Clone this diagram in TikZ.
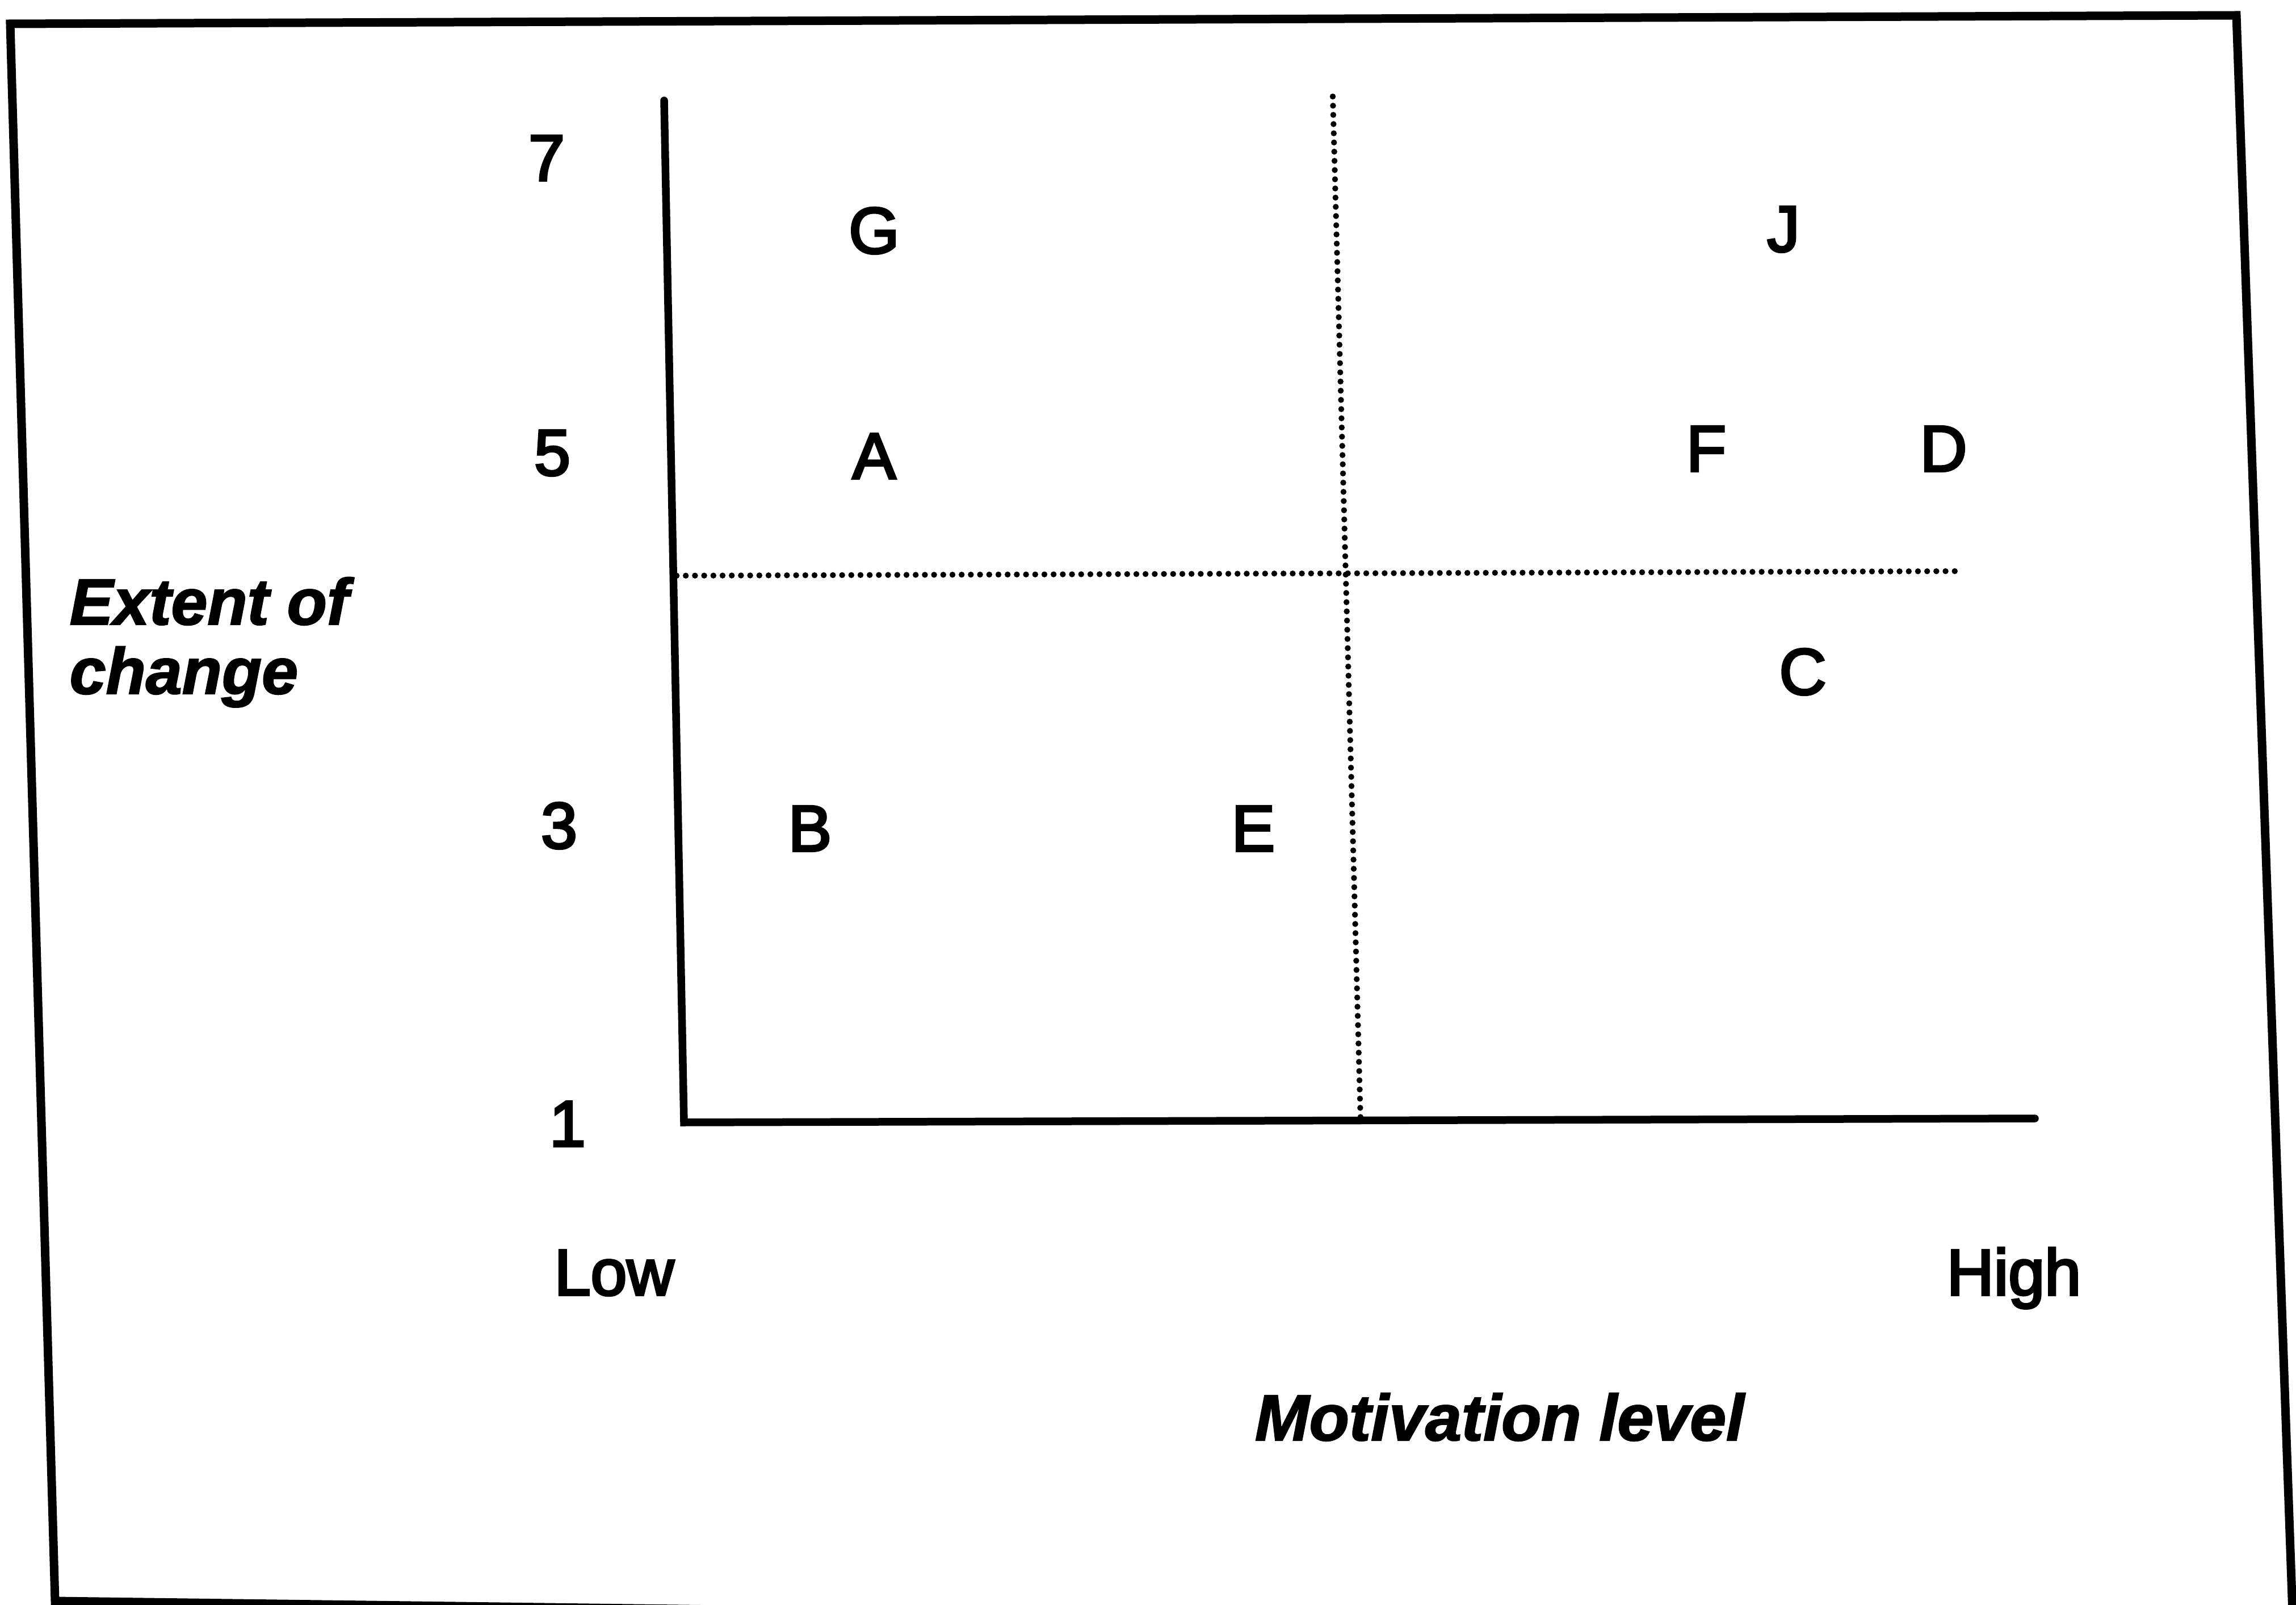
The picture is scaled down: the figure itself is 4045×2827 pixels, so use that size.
\documentclass[tikz,border=0pt]{standalone}
\usepackage{fontspec}
\setmainfont{Liberation Sans}[UprightFeatures={FakeBold=3.6}, BoldItalicFeatures={FakeBold=2}]

\begin{document}
\begin{tikzpicture}[
  x=0.1mm, y=-0.1mm,
  frame/.style={line width=1.5mm, line join=miter},
  axis/.style={line width=1.35mm, line cap=round, line join=miter},
  divider/.style={line width=1.05mm, line cap=round, dash pattern=on 0pt off 1.62mm},
  lbl/.style={font=\fontsize{32.7pt}{35.5pt}\selectfont, inner sep=0pt, anchor=base},
  ttl/.style={lbl, font=\fontsize{32.7pt}{35.5pt}\selectfont\bfseries\itshape}
]
  \fill[white] (0,0) rectangle (4045,2827);
  \clip (0,0) rectangle (4045,2827);
  \useasboundingbox (0,0) rectangle (4045,2827);

  % scanned outer border
  \draw[frame] (4100,2871) -- (97,2820) -- (18,42) -- (3940,27) -- (4041,2900);

  % axes
  \coordinate (ytop) at (1170,177);
  \coordinate (origin) at (1205,1977);
  \coordinate (xend) at (3585,1970);
  \draw[axis] (ytop) -- (origin) -- (xend);

  % quadrant dividers
  \coordinate (hl) at (1192,1014);
  \coordinate (hr) at (3452,1006);
  \coordinate (vt) at (2348,170);
  \coordinate (vb) at (2397,1974);
  \draw[divider] (hl) -- (hr);
  \draw[divider] (vt) -- (vb);

  % scale
  \node[lbl] (tick7) at (963,318) {7};
  \node[lbl] (tick5) at (973,837) {5};
  \node[lbl] (tick3) at (985,1494) {3};
  \node[lbl] (tick1) at (1000,2019) {1};
  \node[lbl] (low) at (1082,2281) {Low};
  \node[lbl] (high) at (3548,2281) {High};

  % cases
  \node[lbl] (g) at (1540,446) {G};
  \node[lbl] (a) at (1540,843) {A};
  \node[lbl] (b) at (1427,1499) {B};
  \node[lbl] (e) at (2208,1499) {E};
  \node[lbl] (j) at (3142,443) {J};
  \node[lbl] (f) at (3006,830) {F};
  \node[lbl] (d) at (3424,830) {D};
  \node[lbl] (c) at (3176,1223) {C};

  % axis titles
  \node[ttl, anchor=base west] (ylab) at (122,1100) {Extent of};
  \node[ttl, anchor=base west] (ylab2) at (122,1222) {change};
  \node[ttl] (xlab) at (2642,2537) {Motivation level};
\end{tikzpicture}
\end{document}
